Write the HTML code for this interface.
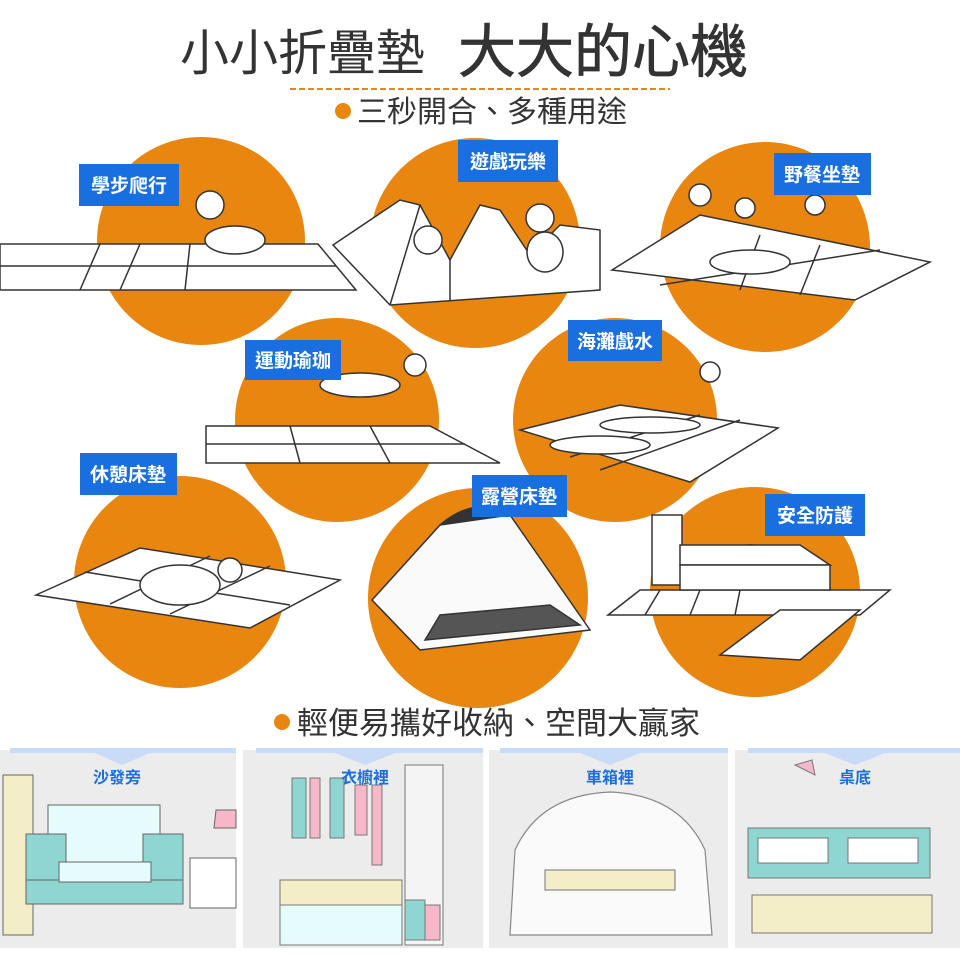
<!DOCTYPE html>
<html><head><meta charset="utf-8"><style>
html,body{margin:0;padding:0;background:#fff;}
svg{display:block}
text{font-family:"Liberation Sans","Noto Sans CJK TC",sans-serif;}
</style></head><body>
<svg width="960" height="960" viewBox="0 0 960 960" xmlns="http://www.w3.org/2000/svg">
<rect width="960" height="960" fill="#fff"/>
<!-- title -->
<text x="180" y="70" font-size="49" fill="#333">小小折疊墊</text>
<text x="458" y="72" font-size="58" fill="#333" stroke="#333" stroke-width="0.8">大大的心機</text>
<line x1="290" y1="89" x2="670" y2="89" stroke="#e8860f" stroke-width="2" stroke-dasharray="6,3"/>
<circle cx="343" cy="111" r="8" fill="#e8860f"/>
<text x="357" y="122" font-size="30" fill="#333">三秒開合、多種用途</text>

<g fill="#e8860f">
<circle cx="201" cy="241" r="104"/>
<circle cx="475" cy="243" r="105"/>
<circle cx="765" cy="247" r="105"/>
<circle cx="337" cy="420" r="102"/>
<circle cx="615" cy="420" r="102"/>
<circle cx="180" cy="582" r="106"/>
<circle cx="478" cy="598" r="110"/>
<circle cx="755" cy="592" r="105"/>
</g>

<g fill="#fff" stroke="#333" stroke-width="1.5">
<polygon points="0,244 318,244 356,290 0,290"/>
<line x1="0" y1="266" x2="336" y2="266"/><line x1="100" y1="244" x2="80" y2="290"/><line x1="140" y1="244" x2="120" y2="290"/><line x1="190" y1="244" x2="185" y2="290"/>
<polygon points="333,245 400,200 420,205 450,260 480,205 500,210 530,255 560,225 600,230 600,290 390,305"/>
<line x1="390" y1="305" x2="420" y2="205"/><line x1="450" y1="260" x2="450" y2="300"/>
<polygon points="612,270 700,215 930,262 855,300"/>
<line x1="660" y1="285" x2="880" y2="250"/><line x1="740" y1="290" x2="760" y2="235"/><line x1="800" y1="295" x2="820" y2="245"/>
<polygon points="206,426 430,426 500,463 206,463"/>
<line x1="206" y1="444" x2="465" y2="444"/><line x1="290" y1="426" x2="300" y2="463"/><line x1="370" y1="426" x2="390" y2="463"/>
<polygon points="520,430 620,405 778,428 690,482"/>
<line x1="570" y1="457" x2="700" y2="415"/><line x1="600" y1="470" x2="740" y2="420"/>
<polygon points="36,595 140,548 340,580 250,628"/>
<line x1="85" y1="572" x2="290" y2="605"/><line x1="110" y1="604" x2="210" y2="556"/><line x1="170" y1="614" x2="270" y2="566"/>
<polygon points="608,615 640,590 890,590 860,615"/>
<polygon points="720,655 780,610 860,610 800,660"/>
<line x1="660" y1="590" x2="645" y2="615"/><line x1="700" y1="590" x2="690" y2="615"/><line x1="740" y1="590" x2="735" y2="615"/>
</g>
<g fill="#fff" stroke="#333" stroke-width="1.5">
<circle cx="210" cy="205" r="14"/><ellipse cx="235" cy="240" rx="30" ry="14"/>
<circle cx="428" cy="240" r="14"/><circle cx="540" cy="218" r="14"/><ellipse cx="545" cy="252" rx="18" ry="20"/>
<circle cx="700" cy="195" r="11"/><circle cx="745" cy="208" r="10"/><circle cx="815" cy="205" r="10"/><ellipse cx="750" cy="262" rx="40" ry="12"/>
<circle cx="415" cy="365" r="11"/><ellipse cx="360" cy="385" rx="40" ry="12"/>
<circle cx="710" cy="372" r="10"/><ellipse cx="650" cy="425" rx="50" ry="8"/><ellipse cx="600" cy="445" rx="50" ry="9"/>
<ellipse cx="180" cy="585" rx="40" ry="20"/><circle cx="230" cy="570" r="12"/>
<ellipse cx="750" cy="555" rx="22" ry="10"/>
</g>
<g stroke="#333" stroke-width="1.5">
<path d="M372,600 L440,525 L510,515 L590,630 L420,650 Z" fill="#fafafa"/>
<path d="M440,525 Q475,495 510,515" fill="#333"/>
<polygon points="425,640 580,625 550,605 440,615" fill="#555"/>
</g>
<g stroke="#333" stroke-width="1.5" fill="#fff">
<rect x="652" y="515" width="30" height="70"/>
<polygon points="680,545 800,545 830,565 680,565"/>
<rect x="680" y="565" width="150" height="25"/>
</g>

<g fill="#1a6fe0">
<rect x="79" y="164" width="100" height="42"/>
<rect x="458" y="140" width="100" height="42"/>
<rect x="774" y="153" width="97" height="42"/>
<rect x="245" y="340" width="96" height="40"/>
<rect x="568" y="320" width="94" height="41"/>
<rect x="80" y="453" width="97" height="42"/>
<rect x="472" y="475" width="95" height="42"/>
<rect x="765" y="494" width="100" height="42"/>
</g>
<g fill="#fff" font-size="19" font-weight="bold" text-anchor="middle">
<text x="129" y="192">學步爬行</text>
<text x="508" y="168">遊戲玩樂</text>
<text x="822" y="181">野餐坐墊</text>
<text x="293" y="367">運動瑜珈</text>
<text x="615" y="348">海灘戲水</text>
<text x="128" y="481">休憩床墊</text>
<text x="519" y="503">露營床墊</text>
<text x="815" y="522">安全防護</text>
</g>

<circle cx="282" cy="722" r="8" fill="#e8860f"/>
<text x="297" y="734" font-size="31" fill="#333">輕便易攜好收納、空間大贏家</text>

<g fill="#ececec">
<rect x="0" y="750" width="236" height="198"/>
<rect x="243" y="750" width="240" height="198"/>
<rect x="489" y="750" width="239" height="198"/>
<rect x="735" y="750" width="225" height="198"/>
</g>
<g fill="#c9dcf7">
<rect x="10" y="748" width="226" height="5"/><polygon points="95,753 150,753 122,765"/>
<rect x="256" y="748" width="227" height="5"/><polygon points="335,753 395,753 365,765"/>
<rect x="500" y="748" width="228" height="5"/><polygon points="580,753 640,753 610,765"/>
<rect x="748" y="748" width="212" height="5"/><polygon points="825,753 885,753 855,765"/>
</g>
<g stroke="#666" stroke-width="1">
<rect x="3" y="775" width="30" height="160" fill="#f3edc8"/>
<rect x="48" y="805" width="112" height="70" fill="#e6fbfb"/>
<rect x="26" y="834" width="40" height="70" fill="#8fd6d3"/>
<rect x="143" y="834" width="40" height="70" fill="#8fd6d3"/>
<rect x="26" y="880" width="157" height="24" fill="#8fd6d3"/>
<rect x="59" y="862" width="92" height="20" fill="#e6fbfb"/>
<rect x="190" y="858" width="46" height="50" fill="#fff"/>
<polygon points="216,810 236,810 236,828 214,828" fill="#f6b8c8"/>
</g>
<g stroke="#777" stroke-width="1">
<rect x="280" y="905" width="122" height="40" fill="#e6fbfb"/>
<rect x="280" y="880" width="122" height="25" fill="#f3edc8"/>
<rect x="292" y="778" width="14" height="60" fill="#8fd6d3"/>
<rect x="310" y="778" width="10" height="60" fill="#f6b8c8"/>
<rect x="330" y="778" width="14" height="60" fill="#8fd6d3"/>
<rect x="355" y="785" width="12" height="50" fill="#f6b8c8"/>
<rect x="372" y="785" width="10" height="80" fill="#f6b8c8"/>
<rect x="405" y="765" width="38" height="180" fill="#f4f4f4"/>
<rect x="405" y="900" width="20" height="40" fill="#8fd6d3"/>
<rect x="425" y="905" width="15" height="35" fill="#f6b8c8"/>
</g>
<g stroke="#888" stroke-width="1.2" fill="#fafafa">
<path d="M510,935 L515,850 Q540,795 610,792 Q680,795 705,850 L712,935 Z"/>
<rect x="545" y="870" width="130" height="20" fill="#f3edc8"/>
</g>
<g stroke="#777" stroke-width="1">
<rect x="748" y="828" width="182" height="50" fill="#8fd6d3"/>
<rect x="758" y="838" width="70" height="25" fill="#fff"/>
<rect x="848" y="838" width="70" height="25" fill="#fff"/>
<rect x="752" y="895" width="180" height="38" fill="#f3edc8"/>
<polygon points="795,765 812,760 815,775" fill="#f6b8c8"/>
</g>
<g fill="#1a6fe0" font-size="16" font-weight="bold" text-anchor="middle">
<text x="117" y="783">沙發旁</text>
<text x="365" y="783">衣櫥裡</text>
<text x="610" y="783">車箱裡</text>
<text x="855" y="783">桌底</text>
</g>
</svg>
</body></html>
